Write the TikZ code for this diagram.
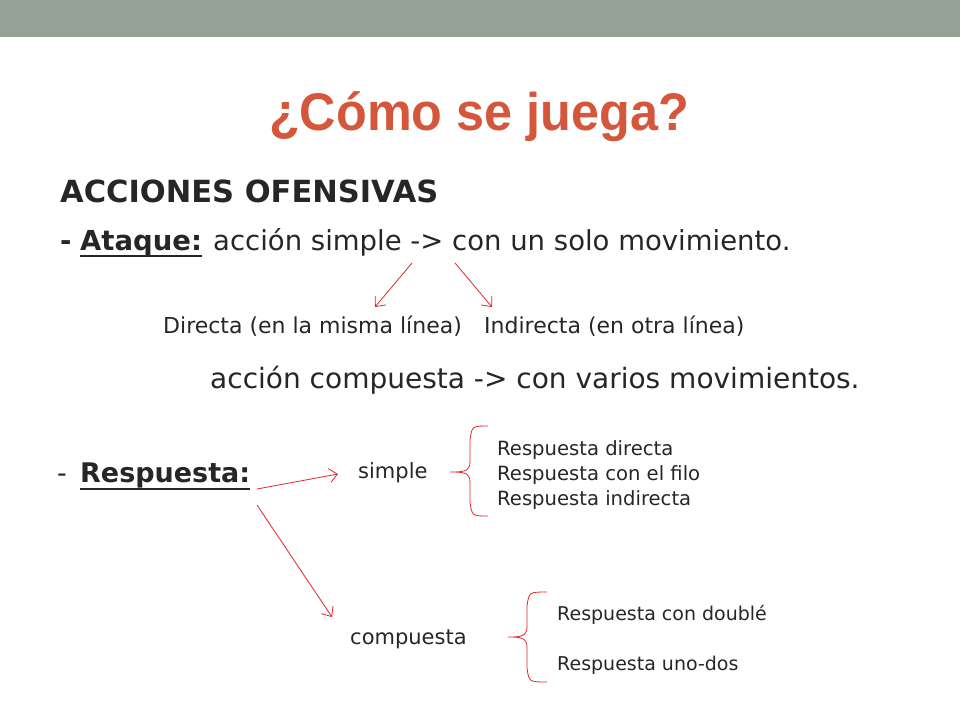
\documentclass[tikz,border=0pt]{standalone}
\usepackage{fontspec}
\setmainfont{DejaVu Sans}
\newfontfamily\titlefont{Liberation Sans}
\usepackage{tikz}
\usetikzlibrary{positioning,calc,arrows.meta}
\definecolor{bargray}{HTML}{95A298}
\definecolor{titlered}{HTML}{D4573B}
\definecolor{arrowred}{HTML}{E3242B}
\definecolor{inkgray}{HTML}{262626}
\newcommand\setfs[1]{\fontsize{#1}{#1}\selectfont}

\tikzset{
  txt/.style={inner sep=0pt, anchor=base west, text=inkgray},
  redarrow/.style={-{Straight Barb[length=8pt,width=14pt]}, arrowred, line width=0.8pt},
  redbrace/.style={arrowred, line width=0.8pt},
  uline/.style={inkgray, line width=2.5pt}
}

\begin{document}
\begin{tikzpicture}[x=1pt, y=-1pt]
  \useasboundingbox (0,0) rectangle (960,720);
  \fill[bargray] (0,0) rectangle (960,37);
  \node[anchor=base, inner sep=0pt, text=titlered,
        font=\titlefont\bfseries\setfs{53}, xscale=0.95] (title) at (479,130) {¿Cómo se juega?};

  % ataque
  \node[txt, font=\bfseries\setfs{30.5}] (ofensivas) at (60,202) {ACCIONES OFENSIVAS};
  \node[txt, font=\bfseries\setfs{27.5}] (ataquedash) at (60,250) {-};
  \node[txt, font=\bfseries\setfs{27.5}] (ataque) at (80,250) {Ataque:};
  \node[txt, font=\setfs{27.5}] (simpleline) at (213,250) {acción simple -> con un solo movimiento.};
  \draw[uline] ([yshift=-6pt]ataque.base west) -- ([yshift=-6pt]ataque.base east);
  \node[txt, font=\setfs{22}] (directa) at (163,333) {Directa (en la misma línea)};
  \node[txt, font=\setfs{22}] (indirecta) at (484,333) {Indirecta (en otra línea)};
  \node[txt, font=\setfs{28}] (compline) at (210,388) {acción compuesta -> con varios movimientos.};
  \coordinate (a1) at (412,263);
  \coordinate (a2) at (455,263);
  \coordinate (d1) at (375,307);
  \coordinate (d2) at (492,307);
  \draw[redarrow] (a1) -- (d1);
  \draw[redarrow] (a2) -- (d2);

  % respuesta
  \node[txt, font=\setfs{27}] (respdash) at (57,482) {-};
  \node[txt, font=\bfseries\setfs{27}] (resp) at (80,482) {Respuesta:};
  \draw[uline] ([yshift=-7pt]resp.base west) -- ([yshift=-7pt]resp.base east);
  \node[txt, font=\setfs{21}] (simple) at (358,478) {simple};
  \node[txt, font=\setfs{21}] (compuesta) at (350,644) {compuesta};
  \coordinate (r1) at (257,489);
  \coordinate (r2) at (257,505);
  \coordinate (s1) at (338,474);
  \coordinate (c1) at (332,617);
  \draw[redarrow] (r1) -- (s1);
  \draw[redarrow] (r2) -- (c1);

  \foreach \txt [count=\i] in {Respuesta directa, Respuesta con el filo, Respuesta indirecta}
    \node[txt, font=\setfs{19.6}] (simple\i) at (497,430+25*\i) {\txt};
  \node[txt, font=\setfs{19}] (comp1) at (557,620) {Respuesta con doublé};
  \node[txt, font=\setfs{19}] (comp2) at (557,670) {Respuesta uno-dos};

  % braces
  \foreach \bx/\vx/\ex/\ty/\my/\by in {450/470/488/426/472/516, 508/527/547/592/637/682}
    \draw[redbrace] (\ex,\ty) .. controls (\vx+2,\ty) .. (\vx,\ty+14)
      -- (\vx,\my-10) .. controls (\vx,\my) and (\vx-8,\my) .. (\bx,\my)
      .. controls (\vx-8,\my) and (\vx,\my) .. (\vx,\my+10)
      -- (\vx,\by-14) .. controls (\vx+2,\by) .. (\ex,\by);
\end{tikzpicture}
\end{document}
